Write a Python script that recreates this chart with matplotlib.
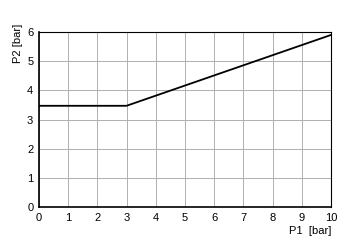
import matplotlib
matplotlib.use("Agg")
import matplotlib.pyplot as plt

p1 = [0, 3, 10]
p2 = [3.47, 3.47, 5.9]
x_ticks = list(range(0, 11))
y_ticks = list(range(0, 7))

plt.rcParams["font.family"] = ["Liberation Sans", "DejaVu Sans"]

fig = plt.figure(figsize=(3.5, 2.5), dpi=100)
ax = fig.add_axes([0.111, 0.172, 0.835, 0.7])
ax.plot(p1, p2, color="black", lw=1.3)
ax.set_xlim(0, 10)
ax.set_ylim(0, 6)
ax.set_xticks(x_ticks)
ax.set_yticks(y_ticks)
ax.grid(True, color="#b0b0b0", lw=0.7)
ax.tick_params(length=0, labelsize=8, pad=4)
for side in ["left", "bottom"]:
    ax.spines[side].set_linewidth(1.2)
for side in ["top", "right"]:
    ax.spines[side].set_linewidth(0.8)
ax.set_ylabel("P2 [bar]", fontsize=8)
ax.yaxis.set_label_coords(-0.055, 1.05)
ax.yaxis.label.set_ha("right")
ax.set_xlabel("P1  [bar]", fontsize=8)
ax.xaxis.set_label_coords(1.0, -0.11)
ax.xaxis.label.set_ha("right")

fig.savefig("out.png", dpi=100)
